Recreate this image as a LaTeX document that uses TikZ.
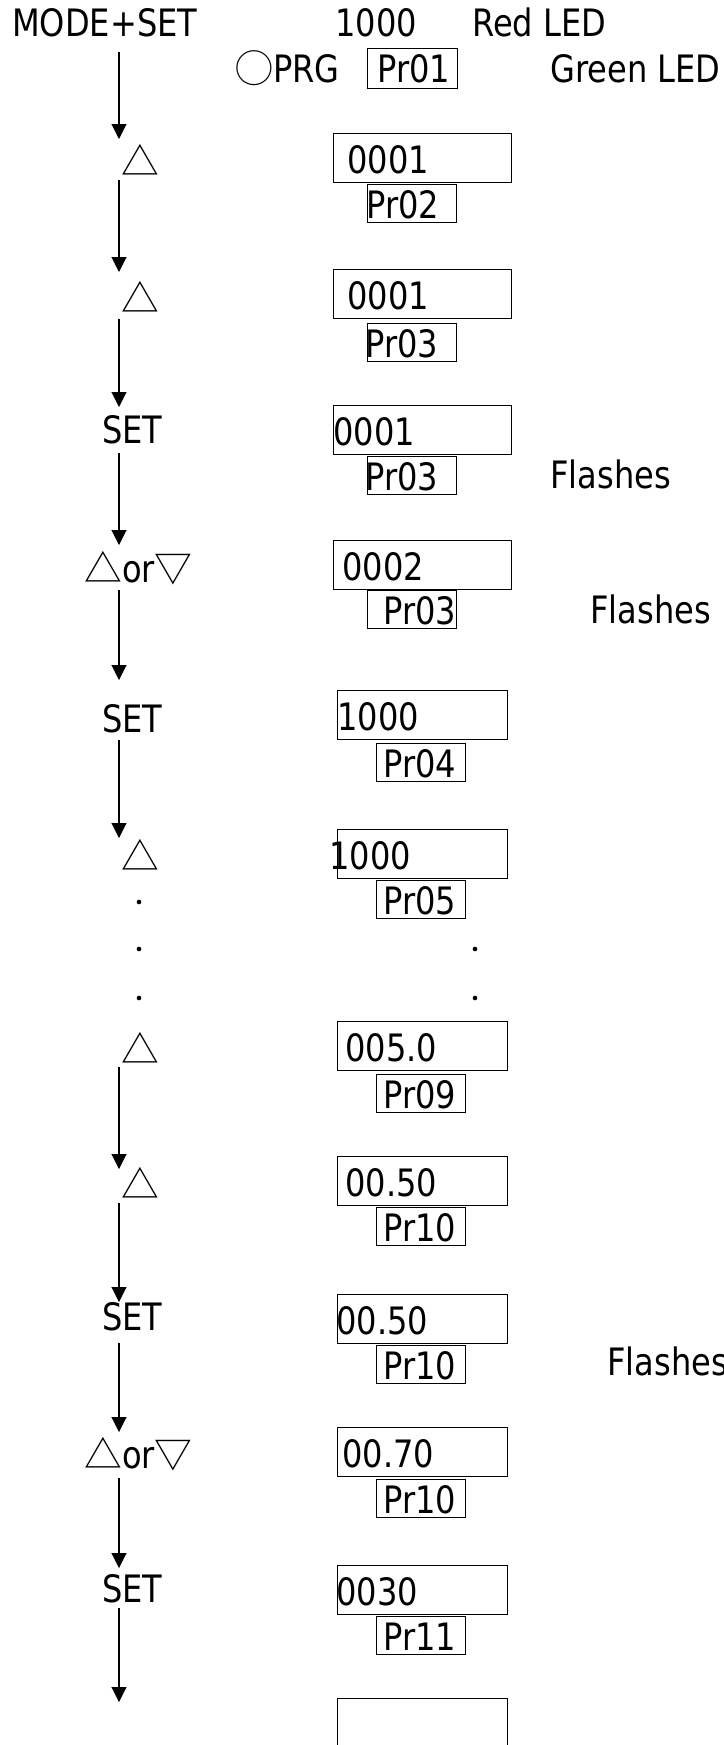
\documentclass[tikz,border=0pt]{standalone}
\usepackage{fontspec}
\setmainfont{DejaVu Sans}[FakeStretch=0.85]
\newfontfamily\cjk{Noto Sans CJK JP}
\usetikzlibrary{arrows.meta}
\begin{document}
\begin{tikzpicture}[x=0.75pt,y=-0.75pt,
  lbl/.style={anchor=base west, inner sep=0pt, font=\fontsize{28.3}{34}\selectfont},
  bigbox/.style={draw, line width=0.9pt, anchor=north west, inner sep=0pt, minimum width=133.5pt, minimum height=36.75pt},
  bigboxb/.style={bigbox, minimum width=127.5pt},
  smallbox/.style={draw, line width=0.9pt, anchor=north west, inner sep=0pt, minimum width=66.75pt, minimum height=28.5pt},
  arr/.style={line width=0.8pt, -{Triangle[length=11.25pt,width=11.25pt]}},
  dot/.style={circle, fill, inner sep=0pt, minimum size=3.5pt}
]
\useasboundingbox (0,0) rectangle (724,1745);

% header
\node[lbl] (mode) at (12,37) {MODE+SET};
\node[lbl] (redval) at (335,37) {1000};
\node[lbl] (redled) at (472,37) {Red LED};
\node[lbl] (prg) at (235,83) {{\cjk ◯}PRG};
\node[smallbox, minimum width=67.5pt, minimum height=30pt] (small1) at (367,48) {};
\node[lbl] (par1) at (377,83) {Pr01};
\node[lbl] (greenled) at (550,83) {Green LED};

% arrows
\foreach \s/\e [count=\i] in {52/139, 180/272, 319/407, 453/545, 590/680, 740/838, 1067/1169, 1203/1302, 1343/1432, 1478/1568, 1608/1702}
  \draw[arr] (119,\s) coordinate (as\i) -- (119,\e) coordinate (ae\i);

% key labels
\node[lbl] (k2) at (121,175) {\cjk △};
\node[lbl] (k3) at (121,312) {\cjk △};
\node[lbl] (k4) at (102,443) {SET};
\node[lbl] (k5) at (84,582) {{\cjk △}or{\cjk ▽}};
\node[lbl] (k6) at (102,732) {SET};
\node[lbl] (k7) at (121,870) {\cjk △};
\node[lbl] (k8) at (121,1063) {\cjk △};
\node[lbl] (k9) at (121,1198) {\cjk △};
\node[lbl] (k10) at (102,1330) {SET};
\node[lbl] (k11) at (84,1468) {{\cjk △}or{\cjk ▽}};
\node[lbl] (k12) at (102,1602) {SET};

% display boxes, rows 2-5
\foreach \n/\T/\S/\xa/\va/\xb/\vb in {2/133/184/347/0001/366/Pr02, 3/269/323/347/0001/365/Pr03, 4/405/456/333/0001/365/Pr03, 5/540/590/342/0002/383/Pr03}
{
  \node[bigbox] (big\n) at (333,\T) {};
  \node[smallbox] (small\n) at (367,\S) {};
  \node[lbl] (val\n) at (\xa,{\T+40}) {\va};
  \node[lbl] (par\n) at (\xb,{\S+34}) {\vb};
}
% display boxes, rows 6-12
\foreach \n/\T/\S/\xa/\va/\xb/\vb in {6/690/743/337/1000/383/Pr04, 7/829/880/329/1000/383/Pr05, 8/1021/1074/345/005.0/383/Pr09, 9/1156/1207/345/00.50/383/Pr10, 10/1294/1345/336/00.50/383/Pr10, 11/1427/1479/342/00.70/383/Pr10, 12/1565/1616/336/0030/383/Pr11}
{
  \node[bigboxb] (big\n) at (337,\T) {};
  \node[smallbox] (small\n) at (376,\S) {};
  \node[lbl] (val\n) at (\xa,{\T+40}) {\va};
  \node[lbl] (par\n) at (\xb,{\S+34}) {\vb};
}
\node[bigboxb, minimum height=60pt] (big13) at (337,1698) {};

% flashes
\node[lbl] (fl4) at (550,488) {Flashes};
\node[lbl] (fl5) at (590,623) {Flashes};
\node[lbl] (fl10) at (607,1375) {Flashes};

% dots
\node[dot] (dl1) at (139,902) {};
\node[dot] (dl2) at (139,949) {};
\node[dot] (dl3) at (139,998) {};
\node[dot] (dr1) at (475,949) {};
\node[dot] (dr2) at (475,998) {};
\end{tikzpicture}
\end{document}
